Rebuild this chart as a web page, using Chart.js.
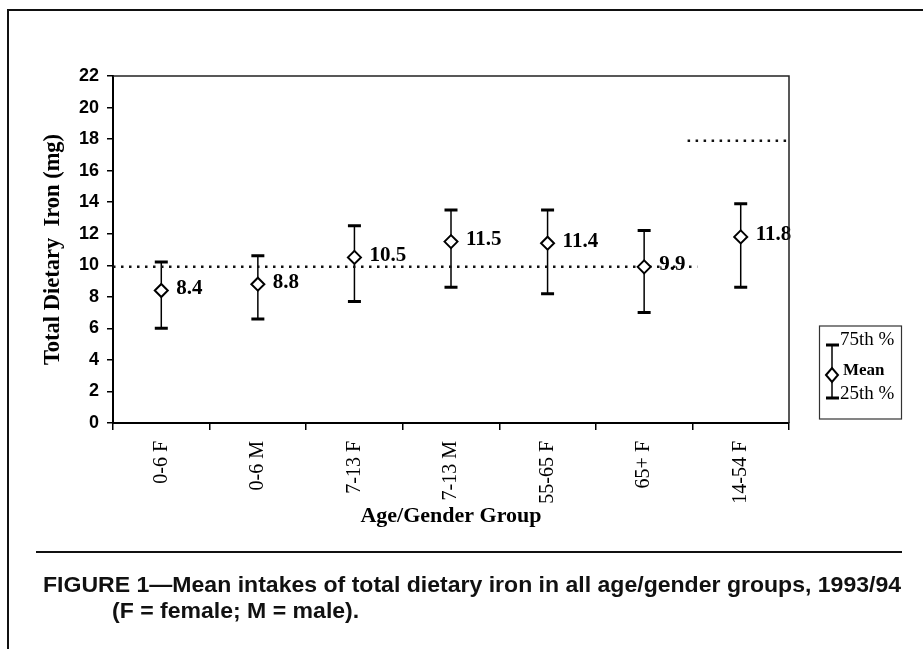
<!DOCTYPE html>
<html><head><meta charset="utf-8">
<script src="https://cdn.jsdelivr.net/npm/chart.js@4"></script>
<style>
html,body{margin:0;padding:0;background:#fff;width:923px;height:649px;overflow:hidden;}
#wrap{position:relative;width:923px;height:649px;background:#fff;}
canvas{position:absolute;left:0;top:0;}
.frameTop{position:absolute;left:7px;top:9px;width:916px;height:2px;background:#111;}
.frameLeft{position:absolute;left:7px;top:9px;width:2px;height:640px;background:#111;}
.rule{position:absolute;left:36px;top:551px;width:866px;height:2px;background:#111;}
.cap{position:absolute;white-space:nowrap;font-family:'Liberation Sans',Arial,sans-serif;font-weight:bold;font-size:22px;line-height:24px;color:#111;transform-origin:0 50%;}
</style></head>
<body><div id="wrap">
<canvas id="c" width="923" height="649"></canvas>
<div class="frameTop"></div><div class="frameLeft"></div><div class="rule"></div>
<div class="cap" id="cap1" style="left:43px;top:573px;">FIGURE 1—Mean intakes of total dietary iron in all age/gender groups, 1993/94</div>
<div class="cap" id="cap2" style="left:112px;top:599px;">(F = female; M = male).</div>
</div>
<script>
// ---- data ----
const categories = ['0-6 F', '0-6 M', '7-13 F', '7-13 M', '55-65 F', '65+ F', '14-54 F'];
const meanIntake = [8.4, 8.8, 10.5, 11.5, 11.4, 9.9, 11.8];
const pct75 = [10.2, 10.6, 12.5, 13.5, 13.5, 12.2, 13.9];
const pct25 = [6.0, 6.6, 7.7, 8.6, 8.2, 7.0, 8.6];
const yTicks = [0, 2, 4, 6, 8, 10, 12, 14, 16, 18, 20, 22];
// reference (recommended intake) lines, x in category index units
const refLineGeneral = [{x: -0.5, y: 9.9}, {x: 5.55, y: 9.9}];
const refLineWomen = [{x: 5.45, y: 17.9}, {x: 6.5, y: 17.9}];
const legendLabels = ['75th %', 'Mean', '25th %'];

const SERIF = '"Liberation Serif", "Times New Roman", serif';
const SANS = '"Liberation Sans", Arial, sans-serif';

const whiskers = {
  id: 'whiskers',
  beforeDatasetsDraw(chart) {
    const {ctx} = chart, xs = chart.scales.x, ys = chart.scales.y;
    ctx.save();
    ctx.strokeStyle = '#000';
    categories.forEach((c, i) => {
      const px = xs.getPixelForValue(i);
      const yt = ys.getPixelForValue(pct75[i]);
      const yb = ys.getPixelForValue(pct25[i]);
      ctx.lineWidth = 1.5;
      ctx.beginPath(); ctx.moveTo(px, yt); ctx.lineTo(px, yb); ctx.stroke();
      ctx.lineWidth = 3;
      ctx.beginPath();
      ctx.moveTo(px - 6.5, yt); ctx.lineTo(px + 6.5, yt);
      ctx.moveTo(px - 6.5, yb); ctx.lineTo(px + 6.5, yb);
      ctx.stroke();
    });
    ctx.restore();
  }
};

const valueLabels = {
  id: 'valueLabels',
  afterDatasetsDraw(chart) {
    const {ctx} = chart;
    const meta = chart.getDatasetMeta(0);
    ctx.save();
    ctx.font = 'bold 21px ' + SERIF;
    ctx.fillStyle = '#000';
    ctx.textAlign = 'left';
    ctx.textBaseline = 'middle';
    meta.data.forEach((pt, i) => {
      ctx.fillText(meanIntake[i].toFixed(1), pt.x + 15, pt.y - 2);
    });
    ctx.restore();
  }
};

const frameAndLegend = {
  id: 'frameAndLegend',
  afterDraw(chart) {
    const {ctx, chartArea: a} = chart;
    ctx.save();
    ctx.strokeStyle = '#222';
    ctx.lineWidth = 1.5;
    ctx.beginPath();
    ctx.moveTo(a.left, a.top); ctx.lineTo(a.right, a.top); ctx.lineTo(a.right, a.bottom);
    ctx.stroke();
    // legend box
    const bx = 819.5, by = 326, bw = 82, bh = 93;
    ctx.lineWidth = 1.2;
    ctx.strokeStyle = '#333';
    ctx.strokeRect(bx, by, bw, bh);
    const lx = 832, ly1 = 345, ly2 = 398, lm = 375;
    ctx.strokeStyle = '#000';
    ctx.lineWidth = 1.5;
    ctx.beginPath(); ctx.moveTo(lx, ly1); ctx.lineTo(lx, ly2); ctx.stroke();
    ctx.lineWidth = 3;
    ctx.beginPath();
    ctx.moveTo(lx - 6, ly1); ctx.lineTo(lx + 7, ly1);
    ctx.moveTo(lx - 6, ly2); ctx.lineTo(lx + 7, ly2);
    ctx.stroke();
    ctx.lineWidth = 2;
    ctx.fillStyle = '#fff';
    ctx.beginPath();
    ctx.moveTo(lx - 6, lm); ctx.lineTo(lx, lm - 7); ctx.lineTo(lx + 6, lm); ctx.lineTo(lx, lm + 7); ctx.closePath();
    ctx.fill(); ctx.stroke();
    ctx.fillStyle = '#000';
    ctx.textAlign = 'left';
    ctx.textBaseline = 'middle';
    ctx.font = '19px ' + SERIF;
    ctx.fillText(legendLabels[0], 840, 340);
    ctx.font = 'bold 17px ' + SERIF;
    ctx.fillText(legendLabels[1], 843, 371);
    ctx.font = '19px ' + SERIF;
    ctx.fillText(legendLabels[2], 840, 394);
    ctx.restore();
  }
};

new Chart(document.getElementById('c'), {
  type: 'line',
  data: {
    labels: categories,
    datasets: [
      {
        label: 'Mean', data: meanIntake, showLine: false, xAxisID: 'x', yAxisID: 'y',
        pointStyle: 'rectRot', pointRadius: 6.5, pointBorderWidth: 2,
        pointBackgroundColor: '#fff', pointBorderColor: '#000', order: 0
      },
      {
        label: 'Reference', data: refLineGeneral, xAxisID: 'x2', yAxisID: 'y',
        borderColor: '#111', borderWidth: 2.5, borderDash: [2.5, 5.5], pointRadius: 0,
        fill: false, order: 1
      },
      {
        label: 'Reference women', data: refLineWomen, xAxisID: 'x2', yAxisID: 'y',
        borderColor: '#111', borderWidth: 2.5, borderDash: [2.5, 5.5], pointRadius: 0,
        fill: false, order: 1
      }
    ]
  },
  options: {
    responsive: false, animation: false, devicePixelRatio: 1,
    layout: {padding: {left: 30, top: 76, right: 134, bottom: 109}},
    plugins: {legend: {display: false}, tooltip: {enabled: false}},
    scales: {
      x: {
        type: 'category', offset: true,
        grid: {offset: true, drawOnChartArea: false, tickLength: 7, color: '#000', lineWidth: 1.5},
        border: {color: '#000', width: 2},
        ticks: {minRotation: 90, maxRotation: 90, padding: 11, color: '#000', font: {family: SERIF, size: 20}},
        title: {display: true, text: 'Age/Gender Group', color: '#000',
          font: {family: SERIF, size: 22, weight: 'bold'}, padding: {top: 0, bottom: 10}},
        afterFit(s) { s.height = 117; }
      },
      x2: {type: 'linear', display: false, min: -0.5, max: 6.5},
      y: {
        min: 0, max: 22,
        afterBuildTicks(s) { s.ticks = yTicks.map(v => ({value: v})); },
        grid: {drawOnChartArea: false, tickLength: 6, color: '#000', lineWidth: 1.5},
        border: {color: '#000', width: 2},
        ticks: {padding: 8, color: '#000', font: {family: SANS, size: 18, weight: 'bold'}},
        title: {display: true, text: 'Total Dietary  Iron (mg)', color: '#000',
          font: {family: SERIF, size: 22.5, weight: 'bold'}, padding: {top: 10, bottom: 0}},
        afterFit(s) { s.width = 83; }
      }
    }
  },
  plugins: [whiskers, valueLabels, frameAndLegend]
});

// fit caption width to the reference
(function () {
  const c1 = document.getElementById('cap1'), c2 = document.getElementById('cap2');
  const k = 858 / c1.offsetWidth;
  c1.style.transform = 'scaleX(' + k + ')';
  c2.style.transform = 'scaleX(' + k + ')';
})();
</script>
</body></html>
